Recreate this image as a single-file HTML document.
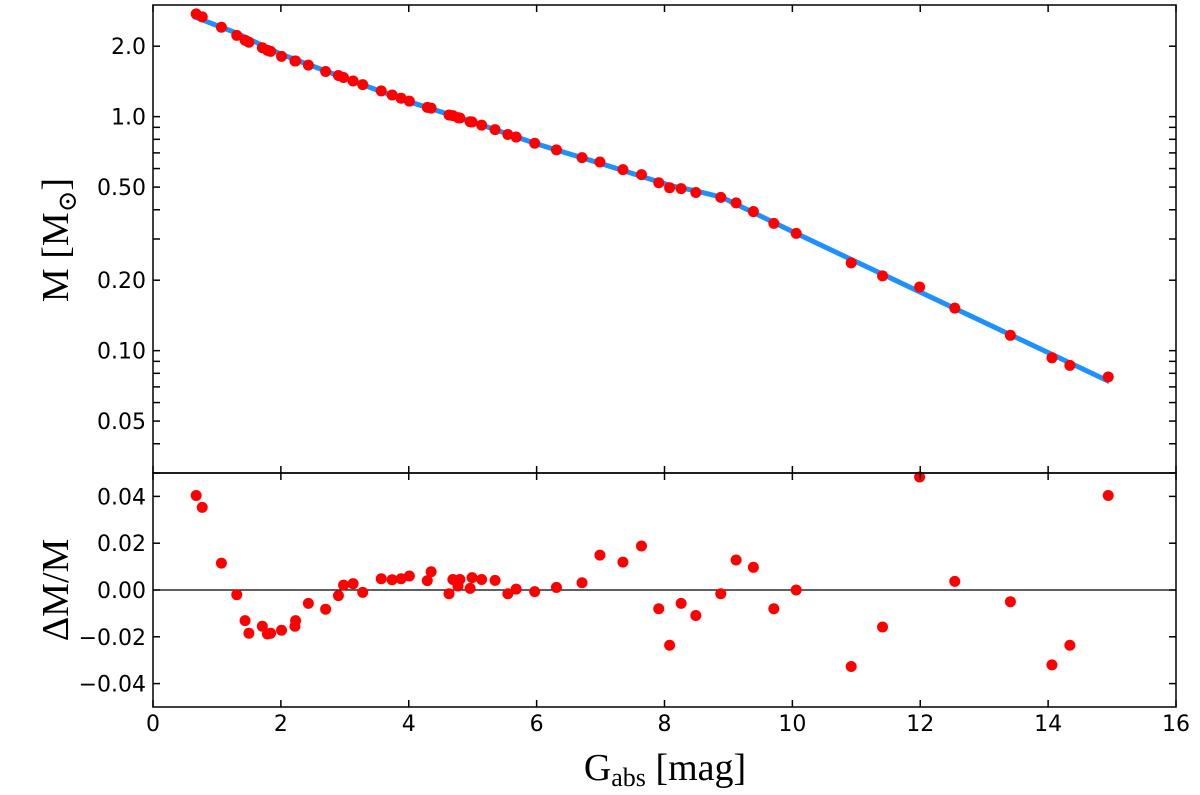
<!DOCTYPE html>
<html><head><meta charset="utf-8"><style>
body{margin:0;background:#fff;}
svg{display:block;font-family:"DejaVu Sans","Liberation Sans",sans-serif;}
.tl{font-size:22px;fill:#000;}
.al{font-family:"Liberation Serif","DejaVu Serif",serif;font-size:38px;fill:#000;}
</style></head><body>
<svg id="chart" width="1200" height="795" viewBox="0 0 1200 795" xmlns="http://www.w3.org/2000/svg">
<g id="top-panel"></g>
<g id="bot-panel"></g>
<text class="al" transform="translate(68,240) rotate(-90)" text-anchor="middle">M [M<tspan font-size="26" dy="8">⊙</tspan><tspan dy="-8">]</tspan></text>
<text class="al" transform="translate(68,590) rotate(-90)" text-anchor="middle">ΔM/M</text>
<text class="al" x="665" y="780" text-anchor="middle">G<tspan font-size="26" dy="6">abs</tspan><tspan dy="-6"> [mag]</tspan></text>
</svg>
<script>
const gabs=[0.675,0.77,1.07,1.31,1.44,1.50,1.71,1.79,1.84,2.01,2.22,2.23,2.43,2.70,2.90,2.98,3.13,3.28,3.57,3.74,3.88,4.01,4.29,4.35,4.63,4.69,4.77,4.80,4.96,4.99,5.14,5.35,5.55,5.68,5.97,6.31,6.71,6.99,7.35,7.64,7.91,8.08,8.26,8.49,8.88,9.12,9.39,9.71,10.06,10.92,11.41,11.99,12.54,13.41,14.06,14.34,14.94];
const mass=[2.75,2.67,2.41,2.225,2.12,2.08,1.97,1.92,1.90,1.81,1.73,1.73,1.66,1.56,1.50,1.47,1.42,1.37,1.288,1.238,1.198,1.165,1.096,1.087,1.016,1.010,0.990,0.987,0.951,0.949,0.920,0.880,0.839,0.818,0.770,0.721,0.668,0.640,0.594,0.565,0.522,0.497,0.4925,0.474,0.452,0.428,0.393,0.350,0.317,0.2373,0.2087,0.187,0.152,0.1163,0.0932,0.0865,0.0772];
const resid=[0.0404,0.0353,0.0115,-0.002,-0.0131,-0.0185,-0.0155,-0.0188,-0.0185,-0.0172,-0.0155,-0.0131,-0.0057,-0.0082,-0.0024,0.0021,0.0027,-0.001,0.0048,0.0044,0.0048,0.006,0.004,0.0078,-0.0016,0.0045,0.0017,0.0045,0.0007,0.0053,0.0045,0.0041,-0.0016,0.0004,-0.0007,0.0011,0.0031,0.0149,0.0119,0.0188,-0.008,-0.0236,-0.0057,-0.0109,-0.0016,0.0128,0.0097,-0.008,0,-0.0327,-0.0158,0.0483,0.0037,-0.005,-0.032,-0.0236,0.0404];
const fitX=[0.63,1.3,2.0,3.0,4.0,5.0,6.0,7.0,8.1,8.5,8.9,10.06,14.96];
const fitM=[2.68,2.28,1.85,1.46,1.16,0.949,0.765,0.631,0.507,0.481,0.452,0.317,0.0737];
const xTicks=[0,2,4,6,8,10,12,14,16];
const yTopLabels=[2.0,1.0,0.5,0.2,0.1,0.05];
const yTopLabelText=["2.0","1.0","0.50","0.20","0.10","0.05"];
const yTopTicks=[2,1,0.9,0.8,0.7,0.6,0.5,0.4,0.3,0.2,0.1,0.09,0.08,0.07,0.06,0.05,0.04,0.03];
const yBotTicks=[0.04,0.02,0,-0.02,-0.04];
const yBotLabelText=["0.04","0.02","0.00","−0.02","−0.04"];

const L=153,R=1176,T=5,M=473,B=707;
const sx=v=>L+(v-0)/(16-0)*(R-L);
const syTop=v=>T+(Math.log10(3)-Math.log10(v))/(Math.log10(3)-Math.log10(0.03))*(M-T);
const syBot=v=>M+(0.05-v)/(0.10)*(B-M);
const NS="http://www.w3.org/2000/svg";
function mk(parent,tag,attrs){const e=document.createElementNS(NS,tag);for(const k in attrs)e.setAttribute(k,attrs[k]);parent.appendChild(e);return e;}
const topG=document.getElementById('top-panel'),botG=document.getElementById('bot-panel');

let d=fitX.map((x,i)=>(i?'L':'M')+sx(x).toFixed(2)+','+syTop(fitM[i]).toFixed(2)).join(' ');
let fl=mk(topG,'path',{d:d,fill:'none',stroke:'#1e90ff','stroke-width':5,'stroke-linejoin':'round'});


let zl=mk(botG,'line',{x1:L,x2:R,y1:syBot(0),y2:syBot(0),stroke:'#000','stroke-width':1.2});


gabs.forEach((x,i)=>{
  let c=mk(topG,'circle',{cx:sx(x),cy:syTop(mass[i]),r:5.5,fill:'#ff0000'});
  
  
  let c2=mk(botG,'circle',{cx:sx(x),cy:syBot(resid[i]),r:5.5,fill:'#ff0000'});
  
  
});
[[T,M],[M,B]].forEach(([a,b],k)=>{
  let f=mk(k?botG:topG,'rect',{x:L,y:a,width:R-L,height:b-a,fill:'none',stroke:'#000','stroke-width':1.5});
  
  
});
xTicks.forEach(v=>{
  const x=sx(v);
  [[T,1],[M,-1],[M,1],[B,-1]].forEach(([y,s])=>mk(botG,'line',{x1:x,x2:x,y1:y,y2:y+s*7,stroke:'#000','stroke-width':1.5}));
  let t=mk(botG,'text',{x:x,y:731,'text-anchor':'middle',class:'tl'});
  t.textContent=String(v);
  
  
});
yTopTicks.forEach(v=>{
  const y=syTop(v);
  mk(topG,'line',{x1:L,x2:L+7,y1:y,y2:y,stroke:'#000','stroke-width':1.5});
  mk(topG,'line',{x1:R,x2:R-7,y1:y,y2:y,stroke:'#000','stroke-width':1.5});
});
yTopLabels.forEach((v,i)=>{
  let t=mk(topG,'text',{x:146,y:syTop(v)+8,'text-anchor':'end',class:'tl'});
  t.textContent=yTopLabelText[i];
  
  
});
yBotTicks.forEach((v,i)=>{
  const y=syBot(v);
  mk(botG,'line',{x1:L,x2:L+7,y1:y,y2:y,stroke:'#000','stroke-width':1.5});
  mk(botG,'line',{x1:R,x2:R-7,y1:y,y2:y,stroke:'#000','stroke-width':1.5});
  let t=mk(botG,'text',{x:146,y:y+8,'text-anchor':'end',class:'tl'});
  t.textContent=yBotLabelText[i];
  
  
});
</script>
</body></html>
